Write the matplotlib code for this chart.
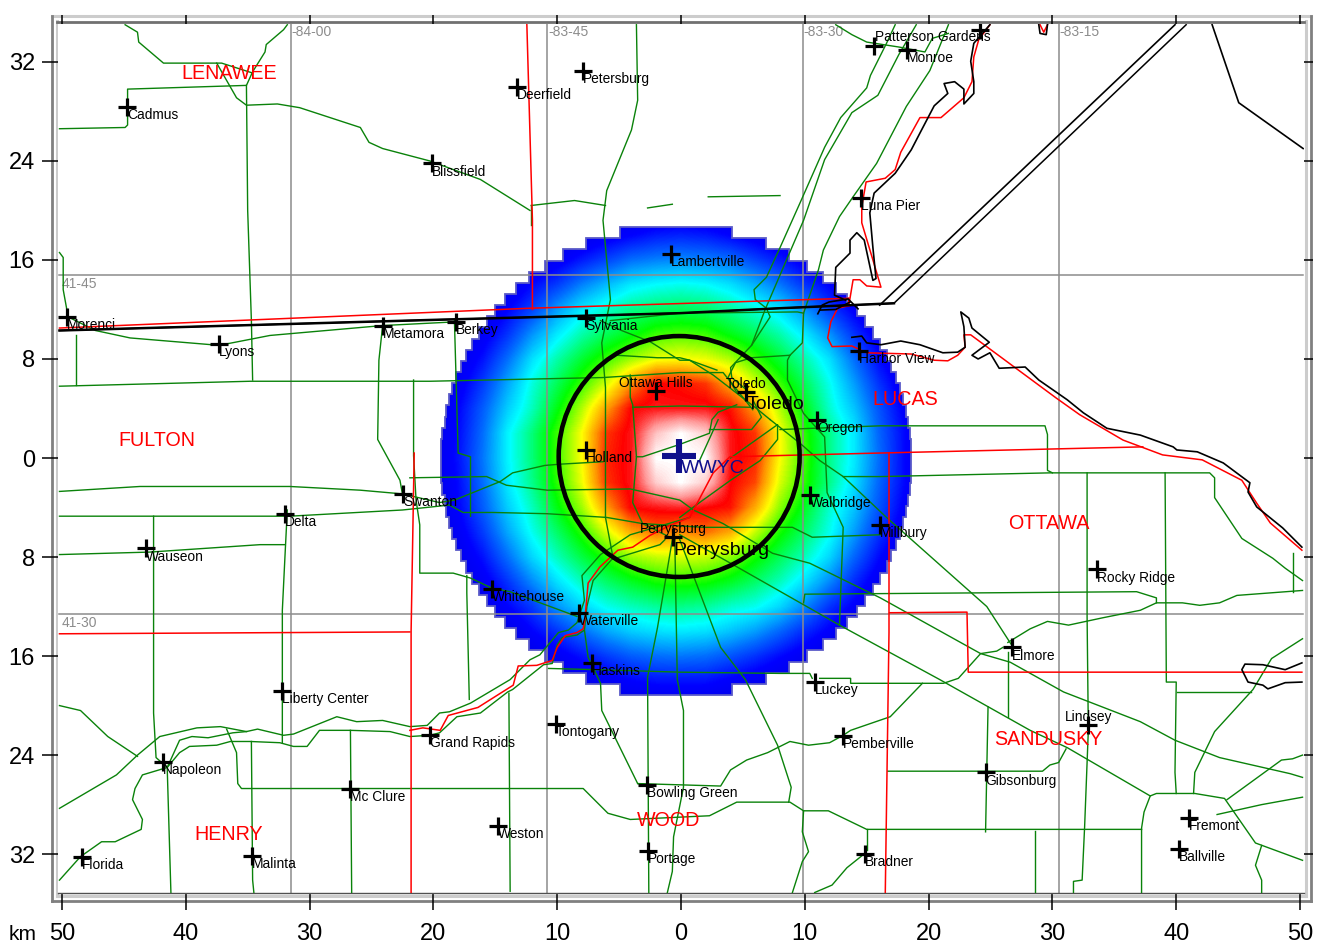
import numpy as np
import matplotlib
matplotlib.use('Agg')
from matplotlib import pyplot as plt
from matplotlib.colors import LinearSegmentedColormap
from matplotlib.patches import Circle, Polygon

plt.rcParams['font.family'] = ['Liberation Sans', 'DejaVu Sans']

# signal level on a 2 km grid, rows from y=20 down to y=-20, columns x=-20 to 20
grid_x = [-20, 20]
grid_y = [-20, 20]
level = [
    [0, 0, 0, 0, 0, 0, 1, 2, 3, 4, 5, 4, 3, 2, 1, 0, 0, 0, 0, 0, 0],
    [0, 0, 0, 0, 0, 2, 5, 9, 12, 15, 16, 15, 12, 9, 5, 2, 0, 0, 0, 0, 0],
    [0, 0, 0, 0, 4, 9, 15, 20, 25, 27, 28, 27, 25, 20, 15, 9, 4, 0, 0, 0, 0],
    [0, 0, 2, 5, 13, 19, 27, 33, 38, 40, 41, 40, 37, 32, 26, 18, 12, 4, 0, 0, 0],
    [0, 0, 4, 12, 20, 30, 38, 43, 47, 49, 50, 49, 46, 42, 37, 29, 19, 11, 3, 0, 0],
    [0, 3, 9, 18, 29, 38, 45, 50, 54, 58, 59, 58, 54, 50, 45, 38, 29, 18, 9, 2, 0],
    [1, 6, 14, 25, 37, 45, 52, 58, 63, 67, 68, 67, 64, 58, 52, 45, 37, 25, 13, 5, 1],
    [2, 9, 19, 31, 42, 50, 58, 66, 76, 84, 83, 81, 74, 66, 58, 50, 41, 30, 18, 8, 2],
    [3, 12, 23, 35, 44, 54, 64, 75, 84, 85, 85, 85, 83, 75, 64, 54, 43, 34, 22, 11, 3],
    [4, 13, 25, 39, 48, 58, 68, 81, 85, 95, 100, 96, 85, 81, 68, 57, 47, 38, 24, 13, 4],
    [5, 14, 26, 39, 48, 58, 68, 82, 85, 100, 100, 100, 85, 82, 68, 58, 47, 38, 25, 13, 5],
    [4, 13, 25, 38, 47, 57, 67, 81, 85, 96, 100, 96, 84, 80, 66, 57, 47, 37, 24, 13, 4],
    [3, 12, 23, 35, 44, 54, 63, 75, 84, 85, 86, 84, 83, 74, 62, 53, 43, 34, 22, 11, 3],
    [2, 9, 19, 31, 41, 49, 57, 66, 74, 78, 76, 78, 74, 65, 56, 49, 41, 30, 18, 8, 2],
    [1, 6, 14, 25, 36, 44, 51, 57, 63, 65, 66, 65, 62, 56, 50, 44, 36, 24, 13, 5, 1],
    [0, 3, 9, 18, 28, 37, 44, 49, 53, 56, 57, 56, 53, 49, 44, 37, 28, 17, 8, 2, 0],
    [0, 0, 4, 12, 19, 29, 36, 41, 44, 46, 47, 46, 43, 41, 36, 28, 18, 11, 3, 0, 0],
    [0, 0, 1, 4, 12, 18, 25, 31, 35, 37, 38, 37, 34, 30, 24, 17, 11, 3, 0, 0, 0],
    [0, 0, 0, 0, 4, 9, 14, 19, 23, 25, 26, 25, 22, 18, 13, 8, 3, 0, 0, 0, 0],
    [0, 0, 0, 0, 0, 3, 6, 9, 12, 14, 14, 14, 11, 8, 5, 2, 0, 0, 0, 0, 0],
    [0, 0, 0, 0, 0, 0, 1, 2, 3, 4, 5, 4, 3, 2, 1, 0, 0, 0, 0, 0, 0],
]

# half width of the coverage area per 0.9 km row, from the centre line outwards
coverage_half_width = [19.0, 19.0, 18.9, 18.7, 18.55, 18.3, 18.1, 17.75, 17.4, 17.0, 16.5,
                       15.9, 15.3, 14.6, 13.8, 12.9, 11.85, 10.6, 9.15, 7.3, 4.5]
coverage_center = (-0.4, -0.25)
ring_center = (-0.15, 0.12)
ring_radius = 9.73

# towns: name, x km, y km
towns = [
    ('Cadmus', -44.75, 28.35), ('Deerfield', -13.25, 29.97), ('Petersburg', -7.9, 31.3),
    ('Monroe', 18.25, 33.0), ('Blissfield', -20.1, 23.8), ('Luna Pier', 14.55, 21.0),
    ('Lambertville', -0.8, 16.5), ('Morenci', -49.6, 11.4), ('Lyons', -37.3, 9.2),
    ('Metamora', -24.1, 10.65), ('Berkey', -18.2, 11.0), ('Sylvania', -7.7, 11.3),
    ('Harbor View', 14.4, 8.65), ('Oregon', 11.0, 3.05), ('Holland', -7.7, 0.65),
    ('Swanton', -22.45, -2.9), ('Delta', -32.0, -4.5), ('Wauseon', -43.2, -7.3),
    ('Walbridge', 10.4, -3.0), ('Millbury', 16.1, -5.4), ('Rocky Ridge', 33.6, -9.0),
    ('Whitehouse', -15.3, -10.6), ('Waterville', -8.25, -12.5), ('Haskins', -7.2, -16.55),
    ('Elmore', 26.7, -15.3), ('Luckey', 10.8, -18.1), ('Liberty Center', -32.2, -18.8),
    ('Tontogany', -10.1, -21.5), ('Grand Rapids', -20.3, -22.4), ('Pemberville', 13.1, -22.45),
    ('Napoleon', -41.85, -24.55), ('Gibsonburg', 24.6, -25.4), ('Bowling Green', -2.75, -26.4),
    ('Mc Clure', -26.7, -26.7), ('Fremont', 41.0, -29.1), ('Weston', -14.8, -29.7),
    ('Ballville', 40.2, -31.6), ('Portage', -2.65, -31.75), ('Bradner', 14.85, -32.0),
    ('Malinta', -34.65, -32.15), ('Florida', -48.4, -32.2),
]
# towns whose label sits above the cross
towns_above = [
    ('Patterson Gardens', 15.6, 33.3, 20.3), ('Ottawa Hills', -2.0, 5.4, -2.0),
    ('Toledo', 5.25, 5.3, 5.25), ('Perrysburg', -0.65, -6.4, -0.65), ('Lindsey', 32.9, -21.6, 32.9),
]
unnamed_towns = [(24.15, 34.6)]
big_towns = [('Toledo', 5.3, 4.35), ('Perrysburg', -0.65, -7.45)]
counties = [
    ('LENAWEE', -36.5, 31.1), ('FULTON', -42.3, 1.45), ('LUCAS', 18.1, 4.75), ('OTTAWA', 29.7, -5.3),
    ('SANDUSKY', 29.7, -22.7), ('HENRY', -36.5, -30.4), ('WOOD', -1.0, -29.3),
]
lon_lines = [-31.5, -10.8, 9.85, 30.53]
lon_labels = ['-84-00', '-83-45', '-83-30', '-83-15']
lat_lines = [14.8, -12.6]
lat_labels = ['41-45', '41-30']

x_ticks = [-50, -40, -30, -20, -10, 0, 10, 20, 30, 40, 50]
y_ticks = [-32, -24, -16, -8, 0, 8, 16, 24, 32]

# coast and channel (x, y in km)
coast = [
    [(24.95, 35), (23.65, 33.5), (23.4, 32.05), (23.65, 30.4), (23.65, 29.45), (22.85, 28.6), (22.85, 29.8),
     (22.1, 30.4), (21.25, 30.25), (21.55, 29.45), (20.45, 28.45), (19.3, 26.25), (18.6, 24.9), (17.3, 23),
     (15.6, 21.4), (15.25, 19.8), (15.5, 17), (15.75, 14.5), (15.5, 14.35), (14.8, 17.6), (14.2, 18.2),
     (13.65, 17.6), (13.65, 16.55), (12.5, 15.4), (12.4, 13.15), (13.3, 12.75)],
    [(13.8, 9.75), (14.6, 9.85), (15, 9.3), (16.15, 9.15), (17.75, 9.45), (19.3, 9.15), (21.15, 8.5), (22.35, 8.55),
     (22.95, 8.95), (22.85, 10.6), (22.6, 11.8), (23.25, 11.3), (23.5, 10.5), (24.9, 9.35), (23.5, 8.3), (24, 8),
     (24.95, 8.5), (25.7, 7.25), (27.8, 7.35), (28.9, 6.3), (31.2, 4.7), (32.5, 3.65), (34.4, 2.4), (37.1, 1.85),
     (39.75, 0.9), (40.05, 0.65), (41.7, 0.5), (43.8, -0.4), (45.95, -2), (45.8, -2.75), (46.5, -3.95),
     (48.6, -5.65), (50.15, -7.2)],
    [(11.05, 11.65), (11.4, 12.35), (11.95, 12.6), (13.5, 12.85), (14.3, 12.05)],
    [(11.25, 11.95), (12.5, 12), (13.65, 12.6)],
    [(16.05, 12.35), (39.9, 35)],
    [(42.9, 35), (45.05, 28.7), (50.25, 25)],
    [(28.9, 35), (29, 34.3), (29.5, 34.2), (29.6, 35)],
    [(50.15, -16.55), (48.8, -17.1), (47, -16.7), (45.55, -16.65), (45.3, -17.1), (45.8, -18.1), (47, -18.35),
     (47.4, -18.65), (48.8, -18.15), (50.15, -18.1)],
]
state_line = [(-50.2, 10.3), (-20.3, 11.15), (-0.1, 11.7), (8, 12.1), (17.2, 12.5), (40.8, 35)]

# county lines
county_lines = [
    [(-50.2, 10.5), (-12.2, 12.1), (13.55, 12.9)],
    [(13.55, 12.3), (13.9, 14.4), (14.45, 14.4), (15, 13.9), (16.15, 13.8), (15.5, 16), (14.6, 19), (14.6, 20.3),
     (14.95, 22.3), (16.5, 22.6), (17.3, 23.3), (17.75, 24.7), (19.3, 27.5), (21, 27.5), (22.85, 29.1), (23.5, 30.4),
     (23.65, 32.4), (24.05, 33.8), (24.95, 35)],
    [(13.55, 12.9), (13.55, 12.3), (12.65, 12.1), (12.1, 11), (11.85, 9.7), (12.2, 9), (13.8, 9.05), (15, 8.5),
     (18.6, 8.4), (20.45, 7.9), (21.55, 7.85), (22.35, 8.3), (22.95, 8.95), (22.85, 9.95), (23.4, 9.95), (30.3, 4.85),
     (32.2, 3.5), (35.7, 1.45), (38.9, 0.25), (42.1, -0.15), (45.3, -1.8), (46.5, -3.65), (47.6, -5.25), (50.15, -7.45)],
    [(-21.9, -22), (-20.85, -21.8), (-19.45, -22), (-18.8, -20.8), (-16.4, -20.15), (-13.55, -18.35), (-13.15, -16.8),
     (-11.65, -16.75), (-10.4, -16.35), (-10, -15.3), (-9.35, -14.35), (-8.4, -14.1), (-7.9, -13.8), (-7.75, -12.9),
     (-7.5, -10.1), (-6.55, -8.8), (-5.1, -7.45), (-3.9, -7.2), (-2.5, -6.25), (-0.9, -5.45), (0.7, -4.8), (2.6, -1.2),
     (3.95, 0.1), (16, 0.4), (37.3, 0.9)],
    [(-12.45, 35), (-12, 19.2), (-12, 12)],
    [(-50.2, -14.2), (-21.9, -14.05)],
    [(-21.55, 0.4), (-21.8, -14), (-21.8, -35.1)],
    [(16.8, 0.4), (16.8, -14.1), (16.5, -35.1)],
    [(16.85, -12.5), (23.1, -12.45), (23.2, -17.3), (50.15, -17.3)],
    [(29, 35), (29.3, 34.4), (29.6, 35)],
]

# roads
roads = [
    [(-44.9, 35), (-43.9, 34.4), (-43.8, 33.6), (-41.8, 31.9), (-38, 31.9), (-37.1, 31.9), (-34.6, 31.1)],
    [(-37.5, 31.9), (-35.9, 29.1), (-35.1, 28.5), (-32.6, 28.6), (-30.8, 28.3), (-25.9, 26.7), (-25.2, 25.5),
     (-24.1, 25), (-20.3, 24), (-16.2, 22.5), (-12.2, 20)],
    [(-50.2, 26.6), (-44.9, 26.7), (-44.7, 26.9), (-44.7, 29.8), (-35.1, 30.1), (-34.6, 31.2), (-33.6, 32.8),
     (-33.5, 33.4), (-32.1, 34.6), (-31.8, 35)],
    [(-35.1, 30.1), (-35, 20), (-34.7, 11.1), (-34.6, 6.3)],
    [(-50.2, 16.6), (-49.9, 16.2), (-49.9, 13.6), (-49.5, 11.4), (-47.3, 10.3), (-44.5, 9.7), (-37.3, 9.1),
     (-33.2, 9.9), (-24.1, 10.7), (-18.2, 11)],
    [(-50.2, 5.8), (-34.8, 6.2), (-20.3, 6.2), (-6.3, 6.5), (-0.1, 6.9), (3.4, 6.9), (5.8, 3.9)],
    [(-48.9, 9.9), (-48.9, 5.9)],
    [(-24.1, 10.7), (-24.4, 7.9), (-24.5, 1.5), (-22.7, -1.8), (-22.5, -2.9)],
    [(-21.6, 6.3), (-21.6, 0.2), (-21.4, -3.4), (-21.1, -5.4), (-21.1, -9.3), (-18.4, -9.3), (-17, -9.7),
     (-15.3, -10.5), (-13.8, -10.8), (-8.4, -12.8)],
    [(-17.3, -9.5), (-17.3, -10.9), (-17.1, -19.5)],
    [(-18.3, 11.1), (-18, 0.4), (-17, 0.1), (-17, -4.7)],
    [(-50.2, -2.7), (-43.7, -2.3), (-31.6, -2.3), (-25.9, -2.6), (-22.5, -2.9), (-19.5, -3.6), (-18.3, -3.4),
     (-14.6, -1.9), (-13.6, -1.2), (-11, -0.6), (-9.8, -0.5), (-6.3, -0.3)],
    [(-21.9, -1.6), (-15.7, -1.5), (-14.1, -2.2), (-10.8, -2.6), (-4.1, -2.5), (-0.1, -3.4), (1, -4.2), (3.4, -5.3),
     (7.4, -7.7), (10.4, -8.5), (16.1, -11.3), (24.2, -15.8), (26.6, -16.5), (30.9, -18.9), (37.1, -21.3),
     (39.9, -22.8), (43.5, -24.2), (49.2, -25.5), (50.2, -25.8)],
    [(-50.2, -4.7), (-31.6, -4.7), (-22.5, -4.2), (-18.7, -3.8), (-17.6, -4.4), (-15.2, -4.4), (-10.8, -4.5),
     (-6, -4.8), (-3.1, -5.3), (-0.5, -6.6)],
    [(-50.2, -7.8), (-42.9, -7.6), (-34, -7), (-32, -7)],
    [(-31.8, -4.2), (-32, -8.2), (-32.2, -12.3), (-32.2, -23)],
    [(-42.6, -4.7), (-42.6, -11.5), (-42.6, -20.6), (-42.4, -24.2), (-41.5, -25), (-41.2, -35.1)],
    [(-50.2, -20), (-48.5, -20.4), (-46.3, -22.5), (-43.9, -24.1)],
    [(-50.2, -28.3), (-45.6, -25.6), (-43.9, -24), (-42.1, -22.5), (-39.1, -21.8), (-37.2, -21.7), (-35.1, -22.1),
     (-34.2, -21.9), (-32.1, -22.4), (-31.3, -22.3), (-27.8, -20.9), (-26.2, -21.3), (-24.1, -21.2), (-21.9, -21.7),
     (-20.5, -21.6), (-19.5, -20.6), (-18.7, -20.5), (-17, -19.8), (-13.8, -17.9), (-12.2, -16.3), (-11.4, -15.9),
     (-9.9, -14.1), (-9.1, -13.9), (-8.4, -13.3), (-7.8, -11.5), (-8, -9.5), (-6.5, -7.8), (-4.1, -6.2), (-1.7, -5.5),
     (0.7, -4.8)],
    [(-50.2, -34.1), (-48.5, -32.2), (-46.8, -31), (-45.7, -31), (-43.6, -30), (-43.5, -29.2), (-44.3, -27.6),
     (-44.1, -26.7), (-43.5, -25.6), (-41.5, -25), (-40.5, -22.8), (-39.5, -22.5), (-38.2, -22.6), (-36.2, -22.2),
     (-35.1, -22.1)],
    [(-41.5, -25), (-40.5, -23.8), (-39.7, -23.3), (-37.5, -23.2), (-36.4, -22.9), (-34.8, -22.9), (-32.4, -23),
     (-31.3, -23.3), (-30.2, -23.3), (-29.2, -22), (-26.7, -22), (-23.5, -22.1), (-21.9, -22.5), (-20.3, -22.4),
     (-19.5, -22.2), (-18.1, -20.9), (-16.2, -20.6), (-14, -18.9), (-13.6, -18.7), (-11.1, -16.7), (-10.4, -16.6),
     (-10, -15.1), (-9.6, -14.5), (-8.4, -14.3), (-7.8, -13.9), (-7.6, -12), (-7.1, -9.9), (-5.6, -8.2), (-1.7, -7),
     (-1.3, -6.6)],
    [(-36.7, -21.9), (-35.9, -23.8), (-35.8, -26.3), (-35.5, -26.7), (-26.7, -26.7), (-7.9, -26.7), (-5.9, -28.7),
     (-4.1, -29.2), (2.3, -28.9), (4.5, -27.8), (8.8, -27.8), (9.9, -28.5), (11.9, -28.5), (15, -30), (37.2, -30)],
    [(-34.7, -22.9), (-34.6, -34.1), (-34.5, -35.1)],
    [(-26.7, -22), (-26.6, -35.1)],
    [(-13.9, -19), (-13.8, -35)],
    [(-10.7, -17), (-6.8, -17.1), (-0.1, -17.3), (8, -17.4), (10.4, -17.4), (10.6, -17.8)],
    [(11.2, -17.8), (13.7, -17.8), (13.7, -18.2), (19.5, -18.2), (21.2, -18.2), (22.4, -17.8), (24.2, -15.8),
     (25.5, -15.6), (26, -15.3)],
    [(19.5, -18.2), (16.9, -20.9), (13.7, -22), (13.1, -22.4)],
    [(-3.6, 35), (-3.5, 28.9), (-4, 26.5), (-6, 21.6), (-6.3, 19.2), (-5.7, 12.8), (-6.4, 9.3), (-6.1, 5.7), (-6.1, 2),
     (-6.1, -4.8), (-5.5, -8)],
    [(-12.1, 20.4), (-8.6, 20.8), (-6.1, 20.4)],
    [(-2.7, 20.2), (-0.7, 20.5)],
    [(2.2, 21.1), (8, 21.2)],
    [(-12.1, 20.4), (-12.1, 18.8)],
    [(-7.8, -13.9), (-7.5, -16.1), (-6.5, -18.2), (-6.4, -20.4), (-3.5, -26.3), (-2.7, -26.4)],
    [(-0.7, -6.6), (-1.9, -13.7), (-2.7, -17.7), (-2.6, -35.1)],
    [(-0.5, -6.6), (-0.3, -17.9), (0.2, -20.4), (0.2, -26.6), (-0.6, -30.6), (-0.7, -33.4), (-1.1, -35.1)],
    [(-0.1, -6.6), (3.2, -15.3), (5.2, -17.9), (7.8, -23.2), (8.9, -26.6), (8.7, -27.8)],
    [(9.9, -28.5), (9.8, -30.2), (10.3, -31.8), (9.8, -32.6), (9, -35.1)],
    [(15, -30), (15, -31.7)],
    [(14.9, -31.9), (13.4, -33.1), (12.2, -34.5), (10.8, -35.1)],
    [(-3.5, -26.3), (3.2, -26.5), (4, -25.2), (5.3, -24.4), (7, -23.8), (8.8, -22.9), (10.3, -23.2), (12, -23),
     (13.1, -22.4)],
    [(16.7, -25.3), (29.2, -25.3), (29.8, -24.8), (30.5, -24.6), (31.1, -23.5)],
    [(24.8, -20.1), (24.6, -30.2)],
    [(26.4, -15.7), (26.4, -20.9)],
    [(-0.1, -6.2), (4, -8.5), (12.8, -13.5), (20.9, -17.9), (28.2, -22), (31.2, -23.4), (37.9, -27.3), (38.4, -27.1),
     (41.5, -27.1), (43.9, -27.5), (46.4, -31.1), (50.2, -32.5)],
    [(46.9, -31.3), (46.4, -32.9), (46.9, -34.1), (46.9, -35.1)],
    [(44.1, -27.6), (48.5, -24.4), (49.4, -24.3), (50.2, -24)],
    [(43.3, -28.8), (46.9, -28), (50.2, -27.4)],
    [(37.9, -27.3), (37.4, -28.6), (37.2, -29.9), (37.2, -35.1)],
    [(40, -27.1), (39.9, -25.4), (40, -18.1), (39.2, -18.1), (39.1, -1.2)],
    [(32.8, -1.2), (32.8, -12.8), (32.9, -22), (32.6, -29.8), (32.4, -34.1), (31.7, -34.2), (31.7, -35.1)],
    [(28.6, -30.1), (28.6, -35.1)],
    [(41.4, -27.1), (41.5, -25.4), (43.1, -22.1), (46.2, -18.7), (47.7, -16.2), (50.2, -14.6)],
    [(40.1, -18.9), (46, -18.9)],
    [(13.1, -1.5), (16.1, -1.5), (29.8, -1.2), (42.7, -1.2), (43.1, -1.6), (43.1, -3.2), (45.3, -6.5), (47.8, -8.1),
     (48.8, -8.9), (50.2, -9.9)],
    [(7.2, 3.1), (9.6, 1.2), (11.2, -0.2), (13.1, -1.5), (16.6, -4.8), (24.7, -12), (26.7, -15.1)],
    [(8, 2.3), (16.1, 2.6), (29.4, 2.6), (29.6, 1.9), (29.6, -1), (30, -1.2)],
    [(26.4, -14.9), (28.2, -13.8), (29.6, -13.2), (31.3, -13.5), (34.1, -12.9), (37.1, -12.3), (38.4, -11.7),
     (40.5, -11.7), (41.9, -11.9), (43.5, -11.7), (44.9, -11.1), (50.2, -10.7)],
    [(9.9, -11.7), (10, -11), (36.8, -10.8), (38.4, -11.3), (38.4, -11.7)],
    [(49.4, -7.7), (49.4, -10.8)],
    [(17.3, 35), (16.6, 33.5), (15.3, 30.9), (15, 29.9), (12.9, 27.5), (11.6, 25.1), (9.7, 20.8), (8, 17), (6.9, 14.6),
     (5.9, 13.6), (6, 12.8), (6.9, 12.1), (7.2, 11.4), (5.7, 9.1), (4, 7.3), (4.1, 6.5), (5.3, 5.5)],
    [(19, 35), (17.6, 32.6), (15.9, 29.3), (13.8, 27.9), (11.6, 24.1), (9.9, 19.2), (6.8, 12), (5.7, 9.1)],
    [(21.6, 35), (20.1, 31.3), (18.2, 28.4), (15.8, 23.8), (13.9, 21.1), (12.8, 19.5), (11.5, 16.8), (11.1, 15.2),
     (9.9, 11.7), (9.8, 9.3), (8.8, 8.3), (8.6, 7.9), (8.6, 6.3), (9.9, 3.6), (11.6, 1.7), (11.8, -2.8), (13.1, -5.6),
     (12.8, -13.5)],
    [(-5.7, 11.1), (-0.1, 11.7), (9.4, 11.8), (9.9, 11.7)],
    [(12.5, 35), (13.8, 34.2), (15, 33.6), (17.6, 33.2), (19.7, 32.8), (20.3, 33.9), (21.6, 34.3)],
    [(-6.5, 11.1), (-4.8, 10.3), (-2.5, 9.4), (-0.1, 7.9), (0.7, 7.9), (2.6, 6.7), (6.1, 4), (7.2, 3.1)],
    [(-6.3, 7.7), (-5.2, 8.3), (-1.9, 8.1), (-0.1, 8.1), (0.7, 7.9), (2.9, 7.1)],
    [(8.8, 8.3), (5.7, 8.1), (4.4, 7.7), (3.8, 6.5), (4.5, 5.3)],
    [(-3.9, 4.1), (-0.1, 4.2), (5.6, 4.1)],
    [(-4.1, 6.7), (-4.1, 4.9), (-3.9, 4.3), (-3.6, 0.1), (-3.1, 0.1), (-0.1, 1.1), (2.3, 2), (2.5, 3.1), (3, 3.7),
     (4.5, 4.3)],
    [(2.3, 2.3), (5.7, 2.3), (6.5, 3.3), (5.8, 4.7)],
    [(-3.6, 0.1), (-3.9, -3.6), (-3.1, -5.3), (1.8, -5.6), (9, -5.6), (10.6, -6.4), (16.1, -6.2)],
    [(-0.1, -4.8), (1.5, -3.6), (4, -1.8), (6.4, -0.2), (7.8, 1.5), (7.8, 2.7), (4, 0)],
    [(1.5, -0.2), (3, 3.1)],
]

fig = plt.figure(figsize=(13.27, 9.49), dpi=100)

# double grey frame, behind the map axes
frame = fig.add_axes([0, 0, 1, 1], zorder=1)
frame.set_xlim(0, 1327)
frame.set_ylim(949, 0)
frame.axis('off')
frame.plot([57, 57], [21, 896], color='#cccccc', lw=2.2)
frame.plot([52, 1311], [16, 16], color='#cccccc', lw=2.2)
frame.plot([1306, 1306], [21, 896], color='#cccccc', lw=2.2)
frame.plot([57, 1306], [896, 896], color='#cccccc', lw=2.2)
frame.plot([52, 52], [16, 901], color='#808080', lw=2)
frame.plot([52, 1311], [901, 901], color='#808080', lw=2)
frame.plot([1311, 1311], [16, 901], color='#808080', lw=2)
frame.plot([57, 1304], [21.5, 21.5], color='#707070', lw=2)

ax = fig.add_axes([58 / 1327, 1 - 893 / 949, 1246 / 1327, 869 / 949], zorder=2)
ax.set_xlim(-50.32, 50.32)
ax.set_ylim(-35.14, 35.06)

cmap = LinearSegmentedColormap.from_list('coverage', [
    (0.00, '#0000e0'), (0.12, '#0000ff'), (0.25, '#006eff'), (0.40, '#00ffff'), (0.55, '#00ff00'),
    (0.68, '#ffff00'), (0.76, '#ff9000'), (0.84, '#ff0000'), (0.92, '#ff9898'), (1.00, '#ffffff')])

# staircase outline of the coverage area
cx, cy = coverage_center
widths = coverage_half_width[::-1] + coverage_half_width
top = cy + 0.9 * len(coverage_half_width)
right_side = []
left_side = []
for i, w in enumerate(widths):
    y0 = top - 0.9 * i
    y1 = y0 - 0.9
    right_side += [(cx + w, y0), (cx + w, y1)]
    left_side += [(cx - w, y0), (cx - w, y1)]
outline = Polygon(right_side + left_side[::-1], closed=True, transform=ax.transData,
                  facecolor='none', edgecolor='#5a5ac8', lw=1.3, zorder=1.5)
ax.add_patch(outline)

step = 2
im = ax.imshow(level, cmap=cmap, vmin=0, vmax=100, interpolation='bilinear', aspect='auto', origin='upper',
               extent=(grid_x[0] - step / 2, grid_x[1] + step / 2, grid_y[0] - step / 2, grid_y[1] + step / 2),
               zorder=1)
im.set_clip_path(outline)
ax.set_xlim(-50.32, 50.32)
ax.set_ylim(-35.14, 35.06)

for x, label in zip(lon_lines, lon_labels):
    ax.axvline(x, color='#8c8c8c', lw=1.1, zorder=2)
    ax.text(x + 0.05, 34.4, label, color='#8c8c8c', fontsize=10, va='center', ha='left', zorder=3)
for y, label in zip(lat_lines, lat_labels):
    ax.plot([-50.2, 50.2], [y, y], color='#8c8c8c', lw=1.1, zorder=2)
    ax.text(-50.0, y - 0.72, label, color='#8c8c8c', fontsize=10, va='center', ha='left', zorder=3)

for road in roads:
    xs, ys = zip(*road)
    ax.plot(xs, ys, color='#0a820a', lw=1.0, zorder=4)
for line in county_lines:
    xs, ys = zip(*line)
    ax.plot(xs, ys, color='#ff0000', lw=1.1, zorder=5)
for line in coast:
    xs, ys = zip(*line)
    ax.plot(xs, ys, color='black', lw=1.2, zorder=6)
xs, ys = zip(*state_line)
ax.plot(xs, ys, color='black', lw=1.1, zorder=6)
ax.plot(xs[:5], ys[:5], color='black', lw=1.8, zorder=6)

ring = Circle(ring_center, ring_radius, fill=False, edgecolor='black', lw=3.3, zorder=8)
ax.add_patch(ring)

for name, x, y in towns:
    ax.plot(x, y, '+', color='black', ms=12.5, mew=2.3, zorder=9)
    ax.text(x, y - 0.66, name, fontsize=9.9, va='center', ha='left', zorder=10)
for name, x, y, label_x in towns_above:
    ax.plot(x, y, '+', color='black', ms=12.5, mew=2.3, zorder=9)
    ax.text(label_x, y + 0.68, name, fontsize=9.9, va='center', ha='center', zorder=10)
for x, y in unnamed_towns:
    ax.plot(x, y, '+', color='black', ms=12.5, mew=2.3, zorder=9)
for name, x, y in big_towns:
    ax.text(x, y, name, fontsize=14, va='center', ha='left', zorder=10)
for name, x, y in counties:
    ax.text(x, y, name, fontsize=14.2, color='#ff0000', va='center', ha='center', zorder=10)

ax.plot(-0.15, 0.15, '+', color='#10108c', ms=25, mew=4.4, zorder=11)
ax.text(0.0, -0.85, 'WWYC', fontsize=14, color='#10108c', va='center', ha='left', zorder=11)

# ticks on all four sides, the zero ticks are longer
for spine in ['left', 'right', 'top']:
    ax.spines[spine].set_visible(False)
ax.spines['bottom'].set_color('#505050')
ax.spines['bottom'].set_linewidth(1)
ax.set_xticks(x_ticks)
ax.set_xticklabels([str(abs(t)) for t in x_ticks], fontsize=17)
ax.set_yticks(y_ticks)
ax.set_yticklabels([str(abs(t)) for t in y_ticks], fontsize=17)
ax.tick_params(axis='x', length=12.2, width=1.1, pad=9.5)
ax.tick_params(axis='y', length=11.5, width=1.1, pad=5)
ax.set_xticks([0], minor=True)
ax.tick_params(axis='x', which='minor', length=14, width=1.1)

top_axis = ax.secondary_xaxis('top')
top_axis.set_xticks(x_ticks)
top_axis.set_xticklabels([])
top_axis.set_xticks([0], minor=True)
top_axis.tick_params(axis='x', length=6.5, width=1.1)
top_axis.tick_params(axis='x', which='minor', length=14, width=1.1)
top_axis.spines['top'].set_visible(False)

right_axis = ax.secondary_yaxis('right')
right_axis.set_yticks(y_ticks)
right_axis.set_yticklabels([])
right_axis.set_yticks([0], minor=True)
right_axis.tick_params(axis='y', length=6.5, width=1.1)
right_axis.tick_params(axis='y', which='minor', length=13, width=1.1)
right_axis.spines['right'].set_visible(False)

frame.text(23, 934, 'km', fontsize=15, va='center', ha='center')

fig.savefig('out.png', dpi=100)
